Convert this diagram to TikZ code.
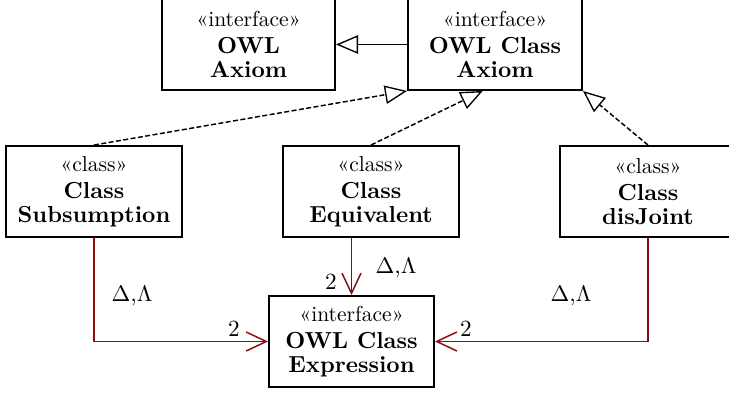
\documentclass[tikz,border=0pt]{standalone}
\usetikzlibrary{arrows.meta,calc}
\definecolor{assocred}{RGB}{140,12,12}
\tikzset{
  umlbox/.style={draw, line width=0.9pt, align=center, inner sep=0pt, minimum height=40.4pt,
    font=\fontsize{10.3pt}{10.8pt}\selectfont},
  real/.style={line width=0.65pt, -{Triangle[open, length=9.8pt, width=8.2pt, line width=0.6pt]}},
  dep/.style={real, dash pattern=on 2.2pt off 1.1pt},
  assoc/.style={assocred, line width=0.65pt, -{Straight Barb[length=9pt, width=8.5pt, line width=0.65pt]}},
  lbl/.style={inner sep=0pt, font=\fontsize{10.3pt}{12pt}\selectfont}
}
\newcommand{\stereo}[1]{{\fontsize{9.6pt}{10.8pt}\selectfont«#1»}\\[1.2pt]}
\begin{document}
\begin{tikzpicture}[x=0.4444pt, y=-0.4444pt]
\useasboundingbox (0,0) rectangle (729,395);
\node[umlbox, minimum width=76.9pt] (ax) at (248.5,44.5) {\stereo{interface}\textbf{OWL}\\\textbf{Axiom}};
\node[umlbox, minimum width=77.3pt] (cax) at (495,44.5) {\stereo{interface}\textbf{OWL Class}\\\textbf{Axiom}};
\node[umlbox, minimum width=78.2pt] (sub) at (94,191.5) {\stereo{class}\textbf{Class}\\\textbf{Subsumption}};
\node[umlbox, minimum width=78.2pt] (eq) at (371,191.5) {\stereo{class}\textbf{Class}\\\textbf{Equivalent}};
\node[umlbox, minimum width=78.2pt] (dis) at (648,191.5) {\stereo{class}\textbf{Class}\\\textbf{disJoint}};
\node[umlbox, minimum width=73.3pt] (exp) at (351.5,341.5) {\stereo{interface}\textbf{OWL Class}\\\textbf{Expression}};

\draw[real] (cax.west) -- (ax.east);
\draw[dep] (sub.north) -- (cax.south west);
\coordinate (eqtip) at ($(cax.south west)!0.43!(cax.south east)$);
\draw[dep] (eq.north) -- (eqtip);
\draw[dep] (dis.north) -- (cax.south east);

\draw[assoc] (sub.south) |- (exp.west);
\draw[assoc] (exp.north |- eq.south) -- (exp.north);
\draw[assoc] (dis.south) |- (exp.east);

\node[lbl] (l1) at (132,296) {$\Delta$,$\Lambda$};
\node[lbl] (l2) at (396,268) {$\Delta$,$\Lambda$};
\node[lbl] (l3) at (571,296) {$\Delta$,$\Lambda$};
\node[lbl] (m1) at (234,329) {2};
\node[lbl] (m2) at (331,282) {2};
\node[lbl] (m3) at (466,329) {2};
\end{tikzpicture}
\end{document}
